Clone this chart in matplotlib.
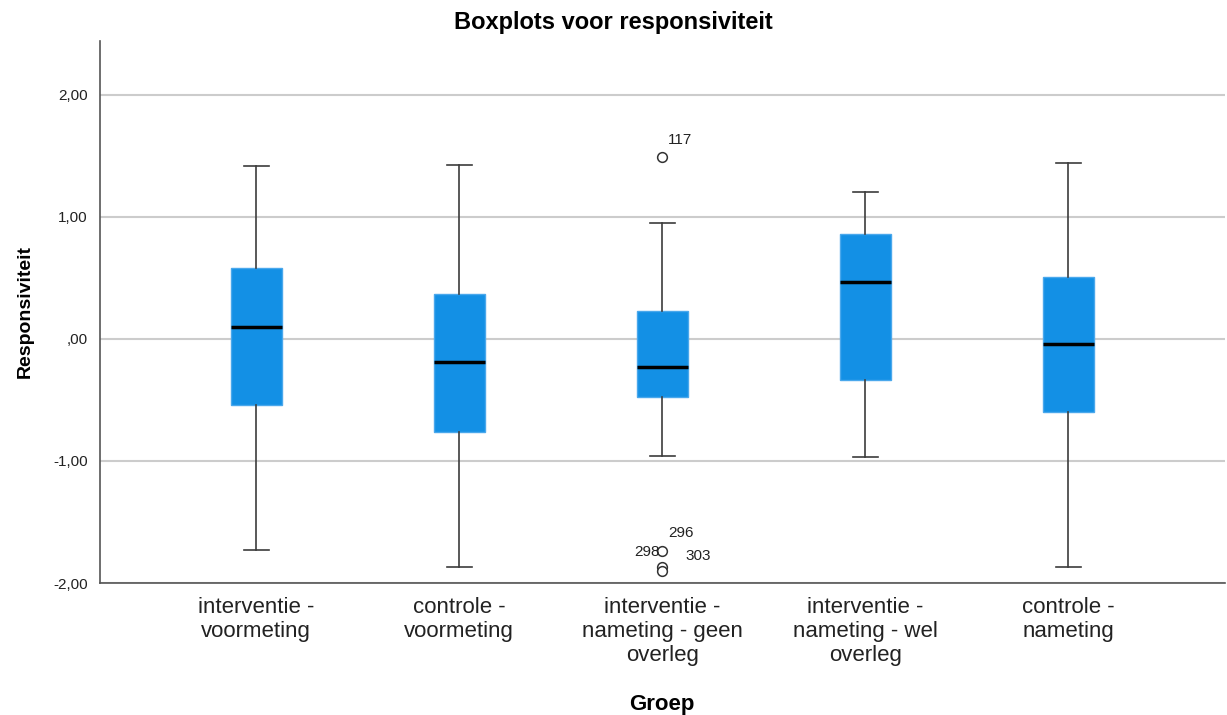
import matplotlib
matplotlib.use("Agg")
import matplotlib.pyplot as plt

plt.rcParams['font.family'] = ['Liberation Sans', 'DejaVu Sans']

categories = ["interventie -\nvoormeting", "controle -\nvoormeting",
              "interventie -\nnameting - geen\noverleg", "interventie -\nnameting - wel\noverleg",
              "controle -\nnameting"]
whisker_low = [-1.733, -1.872, -0.959, -0.970, -1.872]
q1 = [-0.54, -0.762, -0.475, -0.333, -0.601]
median = [0.097, -0.19, -0.227, 0.464, -0.046]
q3 = [0.58, 0.369, 0.227, 0.861, 0.505]
whisker_high = [1.413, 1.42, 0.951, 1.202, 1.437]
outliers = [[], [], [1.49, -1.74, -1.87, -1.90], [], []]
outlier_labels = [[], [], ["117", "296", "298", "303"], [], []]
yticks = [-2, -1, 0, 1, 2]
ytick_labels = ["-2,00", "-1,00", ",00", "1,00", "2,00"]

stats = []
for i in range(len(categories)):
    stats.append(dict(whislo=whisker_low[i], q1=q1[i], med=median[i], q3=q3[i],
                      whishi=whisker_high[i], fliers=outliers[i]))

fig = plt.figure(figsize=(12.27, 7.15), dpi=100)
ax = fig.add_axes([0.0815, 0.1846, 0.9165, 0.7581])

positions = list(range(len(categories)))
ax.bxp(stats, positions=positions, widths=0.25, patch_artist=True,
       boxprops=dict(facecolor='#1390e5', edgecolor='#4aa8ec', linewidth=1),
       medianprops=dict(color='black', linewidth=2.5),
       whiskerprops=dict(color='#3c3c3c', linewidth=1.2),
       capprops=dict(color='#3c3c3c', linewidth=1.2),
       capwidths=0.125,
       flierprops=dict(marker='o', markerfacecolor='white', markeredgecolor='#333333',
                       markersize=7, markeredgewidth=1.1),
       zorder=3)

# outlier labels (offsets in points)
offsets = {"117": (4, 12, 'left'), "296": (4, 13, 'left'), "298": (-2, 11, 'right'),
           "303": (17, 11, 'left')}
for i in range(len(categories)):
    for val, lab in zip(outliers[i], outlier_labels[i]):
        dx, dy, ha = offsets[lab]
        ax.annotate(lab, (positions[i], val), xytext=(dx, dy), textcoords='offset points',
                    ha=ha, va='center', fontsize=11, color='#222222')

ax.set_xlim(-0.77, 4.77)
ax.set_ylim(-2.0, 2.44)
ax.set_yticks(yticks)
ax.set_yticklabels(ytick_labels, fontsize=11, color='#222222')
ax.set_xticks(positions)
ax.set_xticklabels(categories, fontsize=16, color='#222222', linespacing=1.2)
ax.tick_params(axis='y', length=0, pad=9)
ax.tick_params(axis='x', length=0, pad=10)

ax.yaxis.grid(True, color='#cccccc', linewidth=1.5, zorder=0)
ax.set_axisbelow(True)
for s in ['top', 'right']:
    ax.spines[s].set_visible(False)
for s in ['left', 'bottom']:
    ax.spines[s].set_color('#555555')
    ax.spines[s].set_linewidth(1.2)

fig.text(0.5, 1 - 22 / 715, "Boxplots voor responsiviteit", fontsize=17, fontweight='bold',
         ha='center', va='center')
ax.set_ylabel("Responsiviteit", fontsize=14, fontweight='bold', labelpad=14)
ax.set_xlabel("Groep", fontsize=16, fontweight='bold', labelpad=20)

fig.savefig("out.png", dpi=100, facecolor='white')
